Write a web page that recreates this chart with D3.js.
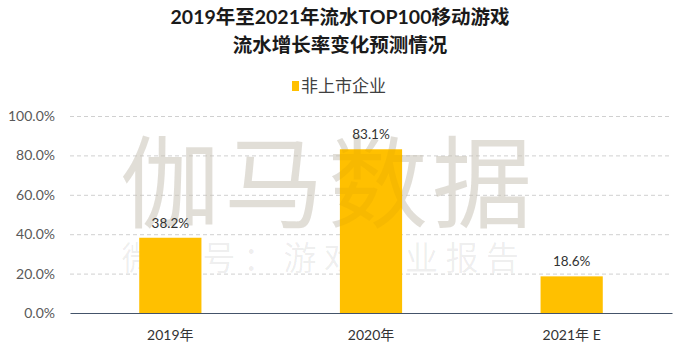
<!DOCTYPE html>
<html><head><meta charset="utf-8">
<script src="https://cdn.jsdelivr.net/npm/d3@7/dist/d3.min.js"></script>
<style>body{margin:0;background:#fff}svg{display:block}</style>
</head><body>
<svg id="c" width="680" height="357"></svg>
<script>
const categories = ["2019年", "2020年", "2021年 E"];
const values = [38.2, 83.1, 18.6];
const yTicks = [0, 20, 40, 60, 80, 100];
const seriesName = "非上市企业";
const titleLines = ["2019年至2021年流水TOP100移动游戏", "流水增长率变化预测情况"];

const svg = d3.select("#c");
const font = "Lato, 'Noto Sans CJK SC', sans-serif";
const m = {left: 70, right: 8, top: 116, bottom: 44};
const W = 680, H = 357;
const x = d3.scaleBand().domain(categories).range([m.left, W - m.right]).paddingInner(0.69).paddingOuter(0.345);
const y = d3.scaleLinear().domain([0, 100]).range([H - m.bottom, m.top]);

// title
svg.append("g").selectAll("text").data(titleLines).join("text")
  .attr("x", 340).attr("y", (d, i) => 24 + i * 28)
  .attr("text-anchor", "middle").attr("font-family", font)
  .attr("font-size", 19.5).attr("font-weight", "bold").attr("fill", "#1a1a1a").text(d => d);

// legend
svg.append("rect").attr("x", 292).attr("y", 81).attr("width", 7).attr("height", 10).attr("fill", "#FFC000");
svg.append("text").attr("x", 301).attr("y", 92).attr("font-family", font).attr("font-size", 17)
  .attr("fill", "#404040").text(seriesName);

// watermark (behind bars)
const wm = svg.append("g");
wm.append("text").attr("x", 328).attr("y", 220).attr("text-anchor", "middle")
  .attr("font-family", "'Noto Sans CJK SC'").attr("font-size", 100).attr("letter-spacing", 4)
  .attr("fill", "#000").attr("fill-opacity", 0.09).text("伽马数据");
wm.append("text").attr("x", 324).attr("y", 270).attr("text-anchor", "middle")
  .attr("font-family", "'Noto Sans CJK SC'").attr("font-size", 33).attr("letter-spacing", 7.5)
  .attr("fill", "#000").attr("fill-opacity", 0.07).text("微信号：游戏产业报告");

// grid
svg.append("g").selectAll("line").data(yTicks.filter(t => t > 0)).join("line")
  .attr("x1", m.left).attr("x2", W - m.right)
  .attr("y1", d => y(d) + 0.5).attr("y2", d => y(d) + 0.5)
  .attr("stroke", "#d0d0d0").attr("stroke-dasharray", "4,3");

// y axis labels
const yAxis = d3.axisLeft(y).tickValues(yTicks).tickSize(0).tickPadding(15).tickFormat(d => d.toFixed(1) + "%");
const ya = svg.append("g").attr("transform", `translate(${m.left},0)`).call(yAxis);
ya.select(".domain").remove();
ya.selectAll("text").attr("font-family", font).attr("font-size", 14).attr("fill", "#595959");

// bars
svg.append("g").selectAll("rect").data(values).join("rect")
  .attr("x", (d, i) => x(categories[i])).attr("width", x.bandwidth())
  .attr("y", d => y(d)).attr("height", d => y(0) - y(d)).attr("fill", "#FFC000");

// translucent watermark tint over bars
const wm2 = svg.append("g");
wm2.append("text").attr("x", 328).attr("y", 220).attr("text-anchor", "middle")
  .attr("font-family", "'Noto Sans CJK SC'").attr("font-size", 100).attr("letter-spacing", 4)
  .attr("fill", "#8a6a00").attr("fill-opacity", 0.07).text("伽马数据");

// value labels
svg.append("g").selectAll("text").data(values).join("text")
  .attr("x", (d, i) => x(categories[i]) + x.bandwidth() / 2).attr("y", d => y(d) - 10)
  .attr("text-anchor", "middle").attr("font-family", font).attr("font-size", 13.5)
  .attr("fill", "#333").text(d => d.toFixed(1) + "%");

// x axis
const xAxis = d3.axisBottom(x).tickSize(0).tickPadding(17);
const xa = svg.append("g").attr("transform", `translate(0,${y(0)})`).call(xAxis);
xa.select(".domain").attr("stroke", "#44546A").attr("stroke-width", 1.2);
xa.selectAll("text").attr("font-family", font).attr("font-size", 14).attr("fill", "#333");
</script>
</body></html>
